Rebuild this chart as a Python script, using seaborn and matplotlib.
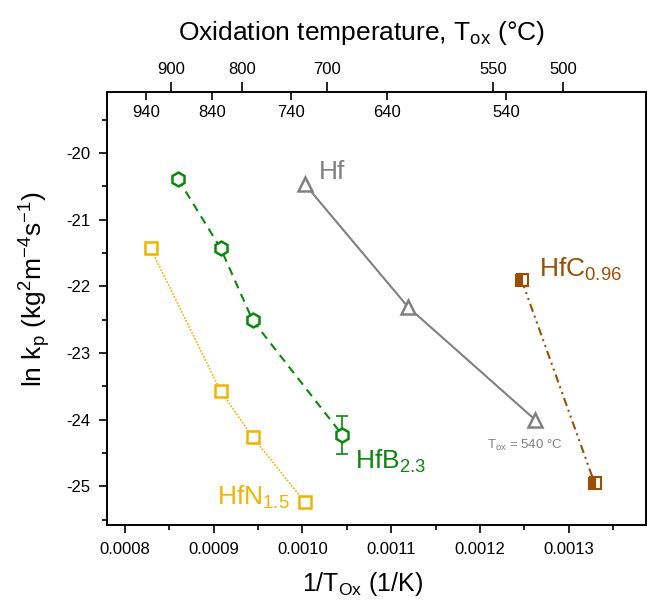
import matplotlib
matplotlib.use("Agg")
import matplotlib.pyplot as plt
import matplotlib.ticker as mticker
import pandas as pd
import seaborn as sns

# values (1/K vs ln kp)
hf_x = [0.001003, 0.001119, 0.001262]
hf_y = [-20.47, -22.31, -24.00]

hfb_x = [0.000860, 0.000908, 0.000944, 0.001045]
hfb_y = [-20.39, -21.43, -22.51, -24.23]
hfb_err = 0.28  # only the last point has an error bar

hfn_x = [0.000829, 0.000908, 0.000944, 0.001003]
hfn_y = [-21.43, -23.57, -24.26, -25.24]

hfc_x = [0.001247, 0.001329]
hfc_y = [-21.91, -24.95]

top_major_c = [900, 800, 700, 550, 500]
top_minor_c = [940, 840, 740, 640, 540]

c_hf = "#808080"
c_hfb = "#0a880a"
c_hfn = "#f0b400"
c_hfc = "#9c4f00"

sns.set_style("ticks")
plt.rcParams["font.family"] = ["Liberation Sans", "DejaVu Sans"]
plt.rcParams["mathtext.fontset"] = "custom"
plt.rcParams["mathtext.rm"] = "Liberation Sans"
plt.rcParams["mathtext.it"] = "Liberation Sans"
plt.rcParams["axes.unicode_minus"] = False
plt.rcParams["text.color"] = "black"
plt.rcParams["axes.labelcolor"] = "black"
plt.rcParams["xtick.color"] = "black"
plt.rcParams["ytick.color"] = "black"

fig = plt.figure(figsize=(6.47, 6.0), dpi=100)
ax = fig.add_axes([0.1654, 0.125, 0.8331, 0.721])

df_hf = pd.DataFrame({"x": hf_x, "y": hf_y})
df_hfb = pd.DataFrame({"x": hfb_x, "y": hfb_y})
df_hfn = pd.DataFrame({"x": hfn_x, "y": hfn_y})
df_hfc = pd.DataFrame({"x": hfc_x, "y": hfc_y})

ax.errorbar(
    hfb_x[-1:], hfb_y[-1:], yerr=[hfb_err], fmt="none", ecolor=c_hfb,
    elinewidth=1.2, capsize=4, capthick=1.2,
)
sns.lineplot(
    data=df_hf, x="x", y="y", ax=ax, sort=False, color=c_hf,
    linewidth=1.5, marker="^", markersize=10, markerfacecolor="white",
    markeredgecolor=c_hf, markeredgewidth=1.8,
)
sns.lineplot(
    data=df_hfb, x="x", y="y", ax=ax, sort=False, color=c_hfb,
    linewidth=1.5, linestyle=(0, (4, 3)), marker="h", markersize=10,
    markerfacecolor="white", markeredgecolor=c_hfb, markeredgewidth=1.8,
)
sns.lineplot(
    data=df_hfn, x="x", y="y", ax=ax, sort=False, color=c_hfn,
    linewidth=1.2, linestyle=(0, (1, 1)), marker="s", markersize=8,
    markerfacecolor="white", markeredgecolor=c_hfn, markeredgewidth=1.8,
)
sns.lineplot(
    data=df_hfc, x="x", y="y", ax=ax, sort=False, color=c_hfc,
    linewidth=1.5, linestyle=(0, (4, 2, 1, 2, 1, 2)), marker="s",
    markersize=9, fillstyle="left", markerfacecolor=c_hfc,
    markerfacecoloralt="white", markeredgecolor=c_hfc, markeredgewidth=1.5,
)

# labels next to the series
ax.text(0.0010185, -20.39, "Hf", color=c_hf, fontsize=19)
ax.text(0.001267, -21.85, "HfC$_{\\mathrm{0.96}}$", color=c_hfc, fontsize=19)
ax.text(0.001059, -24.74, "HfB$_{\\mathrm{2.3}}$", color=c_hfb, fontsize=19)
ax.text(0.0009036, -25.27, "HfN$_{\\mathrm{1.5}}$", color=c_hfn, fontsize=19)
ax.text(0.001208, -24.44, "T$_{\\mathrm{ox}}$ = 540 °C", color=c_hf, fontsize=9.5)

ax.set_xlim(0.00078, 0.001387)
ax.set_ylim(-25.58, -19.09)
ax.xaxis.set_major_locator(mticker.MultipleLocator(0.0001))
ax.xaxis.set_minor_locator(mticker.MultipleLocator(0.00005))
ax.xaxis.set_major_formatter(mticker.FormatStrFormatter("%.4f"))
ax.yaxis.set_major_locator(mticker.MultipleLocator(1))
ax.yaxis.set_minor_locator(mticker.MultipleLocator(0.5))
ax.tick_params(axis="both", which="major", length=6, width=1.2,
               labelsize=12, direction="out", color="black")
ax.tick_params(axis="both", which="minor", length=3.5, width=1.2,
               direction="out", color="black")
ax.tick_params(axis="x", which="major", pad=6)
ax.tick_params(axis="y", which="major", pad=6)
for s in ax.spines.values():
    s.set_linewidth(1.2)
    s.set_color("black")

ax.set_xlabel("1/T$_{\\mathrm{Ox}}$ (1/K)", fontsize=18)
ax.set_ylabel("ln k$_{\\mathrm{p}}$ (kg$^{\\mathrm{2}}$m$^{\\mathrm{-4}}$s$^{\\mathrm{-1}}$)",
              fontsize=19)
ax.xaxis.set_label_coords(0.475, -0.105)
ax.yaxis.set_label_coords(-0.1, 0.545)

# top axis in degrees C
ax2 = ax.twiny()
ax2.set_xlim(ax.get_xlim())
ax2.set_xticks([1 / (t + 273.15) for t in top_major_c],
               labels=[str(t) for t in top_major_c])
ax2.set_xticks([1 / (t + 273.15) for t in top_minor_c],
               labels=[str(t) for t in top_minor_c], minor=True)
ax2.tick_params(axis="x", which="major", direction="out", length=7,
                width=1.2, labelsize=12, pad=4)
ax2.tick_params(axis="x", which="minor", direction="in", length=6,
                width=1.2, labelsize=12, pad=-20, labeltop=True)
ax2.set_xlabel("Oxidation temperature, T$_{\\mathrm{ox}}$ (°C)", fontsize=19)
ax2.xaxis.set_label_coords(0.473, 1.122)
for s in ax2.spines.values():
    s.set_linewidth(1.2)
    s.set_color("black")

fig.savefig("out.png", dpi=100)
